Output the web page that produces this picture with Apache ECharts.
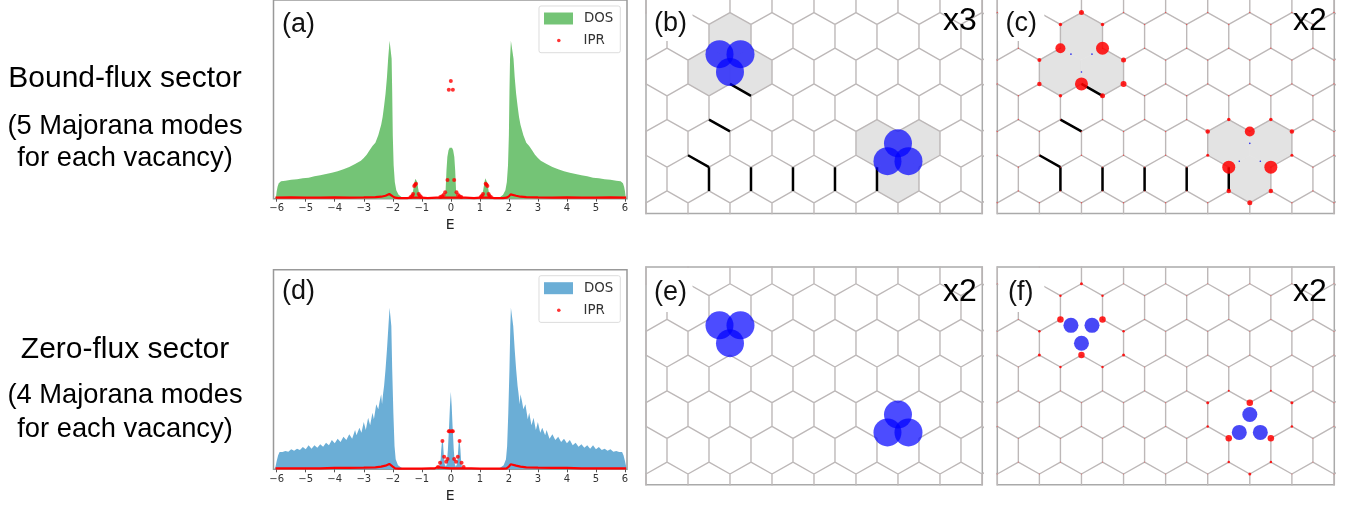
<!DOCTYPE html>
<html><head><meta charset="utf-8">
<style>html,body{margin:0;padding:0;background:#fff}#c{width:1364px;height:508px}</style>
<script src="https://cdn.jsdelivr.net/npm/echarts@6/dist/echarts.min.js"></script>
</head><body><div id="c"></div>
<script>
// ---------- spectra: [E, height] ----------
const dosA = [[-6.06,0],[-6.02,8],[-6,22],[-5.97,36],[-5.93,46],[-5.85,52],[-5.7,54],[-5.5,57],[-5.3,58],[-5.1,61],[-4.9,63],[-4.7,67],[-4.5,70],[-4.3,74],[-4.1,78],[-3.9,82],[-3.7,88],[-3.5,95],[-3.3,104],[-3.1,114],[-3,122],[-2.9,132],[-2.8,145],[-2.7,158],[-2.6,168],[-2.5,190],[-2.4,222],[-2.35,245],[-2.3,278],[-2.25,315],[-2.2,365],[-2.16,420],[-2.11,474],[-2.07,474],[-2.04,420],[-2.02,320],[-2,190],[-1.97,100],[-1.93,50],[-1.88,25],[-1.8,12],[-1.7,5],[-1.6,2],[-1.5,0],[-1.42,0],[-1.38,4],[-1.34,12],[-1.3,24],[-1.26,46],[-1.22,60],[-1.19,61],[-1.16,50],[-1.12,28],[-1.08,10],[-1.04,3],[-1,0],[-0.5,0],[-0.3,1],[-0.26,3],[-0.22,6],[-0.18,25],[-0.15,85],[-0.12,125],[-0.08,145],[-0.04,153],[0,156],[0.04,153],[0.08,145],[0.12,125],[0.15,85],[0.18,25],[0.22,6],[0.26,3],[0.3,1],[0.5,0],[1,0],[1.04,3],[1.08,10],[1.12,28],[1.16,50],[1.19,61],[1.22,60],[1.26,46],[1.3,24],[1.34,12],[1.38,4],[1.42,0],[1.5,0],[1.6,2],[1.7,5],[1.8,12],[1.88,25],[1.93,50],[1.97,100],[2,190],[2.02,320],[2.04,420],[2.07,474],[2.11,474],[2.16,420],[2.2,365],[2.25,315],[2.3,278],[2.35,245],[2.4,222],[2.5,190],[2.6,168],[2.7,158],[2.8,145],[2.9,132],[3,122],[3.1,114],[3.3,104],[3.5,95],[3.7,88],[3.9,82],[4.1,78],[4.3,74],[4.5,70],[4.7,67],[4.9,63],[5.1,61],[5.3,58],[5.5,57],[5.7,54],[5.85,52],[5.93,46],[5.97,36],[6,22],[6.02,8],[6.06,0]];
const iprLineA = [[-6.04,3],[-5.5,4],[-5,3],[-4.5,3],[-4,4],[-3.5,3],[-3,4],[-2.6,5],[-2.4,6],[-2.25,9],[-2.12,14],[-2.06,13],[-2,7],[-1.92,3],[-1.8,2],[-1.5,2],[-1.4,3],[-1.32,3],[-1.1,3],[-1,3],[-0.8,2],[-0.5,3],[-0.3,3],[0,3],[0.3,3],[0.5,3],[0.8,2],[1,3],[1.1,3],[1.32,3],[1.4,3],[1.5,2],[1.8,2],[1.92,3],[2,7],[2.06,13],[2.12,14],[2.25,9],[2.4,6],[2.6,5],[3,4],[3.5,3],[4,4],[4.5,3],[5,3],[5.5,4],[6.04,3]];
const iprDotsA = [[0,353],[-0.07,327],[0.07,327],[-0.115,56],[0.115,56],[-0.195,19],[0.195,19],[-0.25,11],[0.25,11],[-0.3,7],[0.3,7],[-0.36,5],[0.36,5],[-1.38,5],[-1.33,9],[-1.3,14],[-1.26,38],[-1.23,42],[-1.2,45],[-1.11,14],[-1.07,9],[-1.03,5],[1.03,5],[1.07,9],[1.11,14],[1.2,45],[1.23,42],[1.26,38],[1.3,14],[1.33,9],[1.38,5]];
const dosD = [[-6.06,0],[-6,25],[-5.95,42],[-5.9,52],[-5.8,52],[-5.7,55],[-5.6,53],[-5.5,60],[-5.4,56],[-5.3,62],[-5.2,58],[-5.1,67],[-5,60],[-4.9,72],[-4.8,62],[-4.7,72],[-4.6,65],[-4.5,75],[-4.4,68],[-4.3,80],[-4.2,72],[-4.1,88],[-4,78],[-3.9,92],[-3.8,82],[-3.7,98],[-3.6,88],[-3.5,105],[-3.4,92],[-3.3,118],[-3.25,102],[-3.15,125],[-3.08,110],[-3,142],[-2.93,118],[-2.85,155],[-2.78,132],[-2.7,170],[-2.65,150],[-2.57,195],[-2.5,180],[-2.45,205],[-2.4,225],[-2.37,195],[-2.33,230],[-2.3,250],[-2.25,300],[-2.2,360],[-2.15,430],[-2.11,485],[-2.07,485],[-2.05,430],[-2.02,300],[-1.98,170],[-1.94,70],[-1.9,30],[-1.82,12],[-1.7,5],[-1.6,2],[-1.5,0],[-0.5,0],[-0.42,1],[-0.38,6],[-0.35,30],[-0.33,60],[-0.3,88],[-0.27,80],[-0.24,40],[-0.21,15],[-0.17,8],[-0.14,15],[-0.1,60],[-0.06,130],[-0.03,190],[0,233],[0.03,190],[0.06,130],[0.1,60],[0.14,15],[0.17,8],[0.21,15],[0.24,40],[0.27,80],[0.3,88],[0.33,60],[0.35,30],[0.38,6],[0.42,1],[0.5,0],[1.5,0],[1.6,2],[1.7,5],[1.82,12],[1.9,30],[1.94,70],[1.98,170],[2.02,300],[2.05,430],[2.07,485],[2.11,485],[2.15,430],[2.2,360],[2.25,300],[2.3,250],[2.33,230],[2.37,195],[2.4,225],[2.45,205],[2.5,180],[2.57,195],[2.65,150],[2.7,170],[2.78,132],[2.85,155],[2.93,118],[3,142],[3.08,110],[3.15,125],[3.25,102],[3.3,118],[3.4,92],[3.5,105],[3.6,88],[3.7,98],[3.8,82],[3.9,92],[4,78],[4.1,88],[4.2,72],[4.3,80],[4.4,68],[4.5,75],[4.6,65],[4.7,72],[4.8,62],[4.9,72],[5,60],[5.1,67],[5.2,58],[5.3,62],[5.4,56],[5.5,60],[5.6,53],[5.7,55],[5.8,52],[5.9,52],[5.95,42],[6,25],[6.06,0]];
const iprLineD = [[-6.04,3],[-5.5,3],[-5,3],[-4.5,3],[-4,4],[-3.5,4],[-3,5],[-2.6,6],[-2.4,8],[-2.25,11],[-2.12,16],[-2.06,15],[-2,8],[-1.92,3],[-1.8,2],[-1.5,2],[-1,2],[-0.7,3],[-0.55,3],[-0.46,6],[-0.4,3],[0,3],[0.4,3],[0.46,6],[0.55,3],[0.7,3],[1,2],[1.5,2],[1.8,2],[1.92,3],[2,8],[2.06,15],[2.12,16],[2.25,11],[2.4,8],[2.6,6],[3,5],[3.5,4],[4,4],[4.5,3],[5,3],[5.5,3],[6.04,3]];
const iprDotsD = [[-0.07,114],[0.07,114],[-0.04,114],[0.04,114],[-0.29,85],[0.3,85],[-0.23,38],[0.24,38],[-0.16,23],[0.18,23],[-0.115,31],[0.115,31],[-0.37,20],[0.37,20],[-0.44,7],[0.44,7]];
const tickValues = [-6,-5,-4,-3,-2,-1,0,1,2,3,4,5,6];

// ---------- honeycomb panels: lattice sites as [column, level] ----------
const vacancies = [[4,10],[12,2]];
const shadedCells = [[4,12],[3,9],[5,9],[11,3],[13,3],[12,0]];
const flippedBonds = [[[4,8],[5,7]],[[3,5],[4,4]],[[2,2],[3,1]],[[3,1],[3,-1]],[[5,1],[5,-1]],[[7,1],[7,-1]],[[9,1],[9,-1]],[[11,1],[11,-1]]];
const majoranaSites = [[3.5,10.5],[4.5,10.5],[4,9],[12,3],[11.5,1.5],[12.5,1.5]];
const ampC = [[3,11,10],[5,11,13],[4,8,13],[4,14,5],[3,13,3.5],[5,13,3.5],[2,10,4],[6,10,5],[2,8,4.5],[6,8,6],[3,7,3.5],[5,7,5],[12,4,10],[11,1,13],[13,1,13],[11,5,3.5],[13,5,3.5],[10,4,4.5],[14,4,4.5],[10,2,3],[14,2,3],[11,-1,4.5],[13,-1,4.5],[12,-2,5]];
const ampF = [[3,11,6.5],[5,11,6.5],[4,8,6.5],[4,14,3],[3,13,2.5],[5,13,2.5],[2,10,2.5],[6,10,2.5],[2,8,3],[6,8,3],[3,7,2.5],[5,7,2.5],[12,4,6.5],[11,1,6.5],[13,1,6.5],[10,4,3],[14,4,3],[11,5,2],[13,5,2],[10,2,2.5],[14,2,2.5],[11,-1,2.5],[13,-1,2.5],[12,-2,3]];

const panelLabels = ['(a)','(b)','(c)','(d)','(e)','(f)'];
const copyLabels = ['x3','x2','x2','x2'];
const sectorText = [['Bound-flux sector',78.5],['(5 Majorana modes',126],['for each vacancy)',158],['Zero-flux sector',349.5],['(4 Majorana modes',395],['for each vacancy)',429]];

// ---------- layout ----------
const SQ = Math.sqrt(3)/2, Y0 = 1.45, XMAX = 13.87;
const site = ([i,k]) => [i*SQ, Y0 + k*0.5];
const grids = [
  {left:273.5,top:0,width:353.5,height:198.7},
  {left:646,top:-4,width:336.3,height:217.5},
  {left:997.3,top:-4,width:337,height:217.5},
  {left:273.5,top:269.7,width:353.5,height:199.6},
  {left:646,top:267,width:336.3,height:217.7},
  {left:997.3,top:267,width:337,height:217.7}
];
const isSpec = i => i===0 || i===3;
const option = {
  animation:false, backgroundColor:'#fff',
  grid: grids.map((g,i)=>({...g,show:true,containLabel:false,outerBoundsMode:'none',backgroundColor:'#fff',
    borderColor:isSpec(i)?'#999':'#aaa',borderWidth:1.5})),
  xAxis: grids.map((g,i)=> isSpec(i) ? {
    type:'value',gridIndex:i,min:-6.11,max:6.07,name:'E',nameLocation:'middle',nameGap:20,
    nameTextStyle:{fontFamily:'DejaVu Sans',fontSize:14,color:'#222'},
    axisLine:{show:false},splitLine:{show:false},
    axisTick:{show:true,length:3,lineStyle:{color:'#555',width:1},customValues:tickValues},
    axisLabel:{margin:5,fontFamily:'DejaVu Sans',fontSize:10,color:'#333',customValues:tickValues,
      formatter:v=>String(v).replace('-','\u2212')}
  } : {type:'value',gridIndex:i,min:0,max:XMAX,show:false}),
  yAxis: grids.map((g,i)=> isSpec(i) ? {
    type:'value',gridIndex:i,min:0,max:i===0?596:599,show:false
  } : {type:'value',gridIndex:i,min:0,max:g.height/23.78,show:false}),
  legend:[],series:[],graphic:[]
};

// lattice edges and sites (hexagon corners relative to a cell centre)
const corners = [[0,2],[1,1],[1,-1],[0,-2],[-1,-1],[-1,1]];
const edgeMap = new Map(), siteMap = new Map();
for (let r=-1;r<=6;r++) for (let i=-2;i<=18;i++) {
  if ((i+r)%2!==0) continue;
  const pts = corners.map(c=>[i+c[0],3*r+c[1]]);
  pts.forEach((p,n)=>{
    siteMap.set(p.join(),p);
    const q = pts[(n+1)%6];
    const key = [p.join(),q.join()].sort().join('|');
    edgeMap.set(key,[p,q]);
  });
}
const isVac = p => vacancies.some(v=>v[0]===p[0]&&v[1]===p[1]);
const edgePath = [];
for (const [p,q] of edgeMap.values()) {
  if (isVac(p)||isVac(q)) continue;
  edgePath.push(site(p),site(q),[null,null]);
}
const bondPath = [];
flippedBonds.forEach(([p,q])=>bondPath.push(site(p),site(q),[null,null]));
const allSites = [...siteMap.values()].filter(p=>!isVac(p)).map(site);
const mid = majoranaSites.map(site);

function hexSeries(ix){
  return {type:'custom',xAxisIndex:ix,yAxisIndex:ix,z:1,clip:true,silent:true,
    data:shadedCells.map(site),
    renderItem:(params,api)=>{
      const x=api.value(0),y=api.value(1);
      return {type:'polygon',shape:{points:corners.map(c=>api.coord([x+c[0]*SQ,y+c[1]*0.5]))},
        style:{fill:'#e3e3e3',stroke:'#e3e3e3',lineWidth:0.6}};
    }};
}
function edges(ix){return {type:'line',xAxisIndex:ix,yAxisIndex:ix,z:2,silent:true,showSymbol:false,symbol:'none',
  data:edgePath,lineStyle:{color:'#bdb8b8',width:1.4},connectNulls:false};}
function bonds(ix){return {type:'line',xAxisIndex:ix,yAxisIndex:ix,z:3,silent:true,symbol:'none',
  data:bondPath,lineStyle:{color:'#000',width:2.5},connectNulls:false};}
function dots(ix,data,color,size,z,opacity){return {type:'scatter',xAxisIndex:ix,yAxisIndex:ix,z,silent:true,
  data,symbolSize:size,itemStyle:{color,opacity}};}
const amp = list => list.map(a=>[...site(a),a[2]]);

// spectra
function spectrum(ix,tag,dos,line,pts,color){
  option.series.push(
    {name:'DOS '+tag,type:'line',xAxisIndex:ix,yAxisIndex:ix,z:2,data:dos,symbol:'none',
      lineStyle:{width:0,color},itemStyle:{color},areaStyle:{color,opacity:1}},
    {name:'IPR base '+tag,type:'line',xAxisIndex:ix,yAxisIndex:ix,z:3,data:line,symbol:'none',
      lineStyle:{width:2.2,color:'#f00'}},
    {name:'IPR '+tag,type:'scatter',xAxisIndex:ix,yAxisIndex:ix,z:4,data:pts,symbolSize:4,
      itemStyle:{color:'#f00'}}
  );
  const g = grids[ix], t = g.top;
  const txt = {fontFamily:'DejaVu Sans',fontSize:13.4,color:'#333'};
  option.legend.push(
    {data:['DOS '+tag],selectedMode:false,left:544,top:t+12,itemWidth:29,itemHeight:12,padding:0,icon:'rect',
      formatter:()=>'DOS',textStyle:{...txt,padding:[0,0,0,6]},z:20},
    {data:['IPR '+tag],selectedMode:false,left:557,top:t+34,itemWidth:3.6,itemHeight:3.6,padding:0,icon:'circle',
      formatter:()=>'IPR',textStyle:{...txt,padding:[0,0,0,18]},z:20}
  );
  option.graphic.push({type:'rect',z:15,shape:{x:539,y:t+6,width:81.3,height:46.7,r:2},
    style:{fill:'#fff',stroke:'#d8d8d8',lineWidth:1,opacity:0.9},silent:true});
}
spectrum(0,'a',dosA,iprLineA,iprDotsA,'#74c476');
spectrum(3,'d',dosD,iprLineD,iprDotsD,'#6baed6');

// lattice panels
option.series.push(
  hexSeries(1),edges(1),bonds(1),dots(1,mid,'rgba(0,0,255,0.7)',28,5,1),
  hexSeries(2),edges(2),bonds(2),dots(2,allSites,'rgba(255,0,0,0.55)',1.4,4,1),
  dots(2,amp(ampC),'rgba(255,0,0,0.85)',v=>v[2],5,1),dots(2,mid,'#2222ee',1.6,6,1),
  edges(4),dots(4,mid,'rgba(0,0,255,0.7)',28,5,1),
  edges(5),dots(5,allSites,'rgba(255,0,0,0.4)',1.2,4,1),
  dots(5,amp(ampF),'rgba(255,0,0,0.85)',v=>v[2],5,1),dots(5,mid,'rgba(40,40,245,0.85)',15,6,1)
);

// white patches behind the panel letters
[[647,0,45.5,41],[998.3,0,46,41],[647,268,45.5,44],[998.3,268,46,44]].forEach(r=>{
  option.graphic.push({type:'rect',z:30,silent:true,shape:{x:r[0],y:r[1],width:r[2],height:r[3]},style:{fill:'#fff'}});
});
// texts
const labelPos = [[282,25],[654,24],[1005.5,24],[282,292],[654,293],[1008,293]];
panelLabels.forEach((s,i)=>option.graphic.push({type:'text',z:40,silent:true,
  style:{x:labelPos[i][0],y:labelPos[i][1],text:s,font:'27px "Liberation Sans"',fill:'#111',textAlign:'left',textVerticalAlign:'middle'}}));
const copyPos = [[960,21.5],[1310,21.5],[960,292.5],[1310,292.5]];
copyLabels.forEach((s,i)=>option.graphic.push({type:'text',z:40,silent:true,
  style:{x:copyPos[i][0],y:copyPos[i][1],text:s,font:'32px "Liberation Sans"',fill:'#000',textAlign:'center',textVerticalAlign:'middle'}}));
sectorText.forEach(([s,y],i)=>option.graphic.push({type:'text',z:40,silent:true,
  style:{x:125,y,text:s,font:((i%3===0)?'30px':'27.3px')+' "Liberation Sans"',fill:'#000',textAlign:'center',textVerticalAlign:'middle'}}));

echarts.init(document.getElementById('c'),null,{renderer:'canvas'}).setOption(option);
</script></body></html>
